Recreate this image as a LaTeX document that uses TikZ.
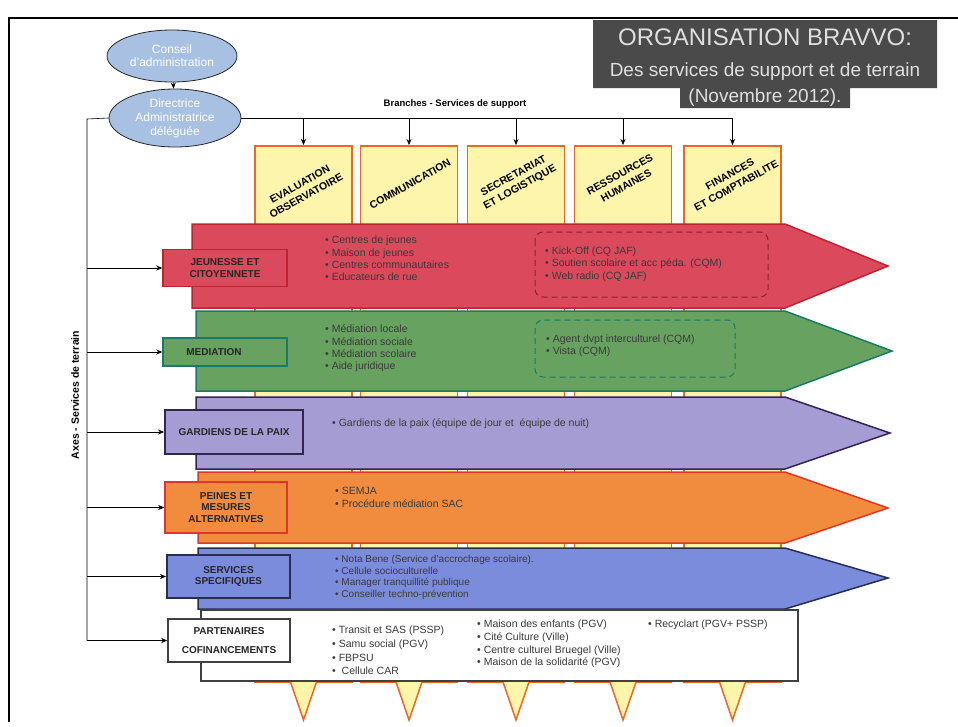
\documentclass[tikz,border=0pt]{standalone}
\usepackage{fontspec}
\setmainfont{Liberation Sans}
\usepackage{tikz}
\usetikzlibrary{shapes.geometric, arrows.meta, positioning, calc}
\definecolor{jeunecolor}{RGB}{218,74,92}
\definecolor{jeuneline}{RGB}{188,36,50}
\definecolor{mediacolor}{RGB}{104,162,96}
\definecolor{medialine}{RGB}{24,122,104}
\definecolor{gardcolor}{RGB}{166,156,212}
\definecolor{gardline}{RGB}{52,36,82}
\definecolor{peinecolor}{RGB}{241,140,62}
\definecolor{peineline}{RGB}{226,52,40}
\definecolor{servcolor}{RGB}{124,140,220}
\definecolor{servline}{RGB}{40,46,82}
\definecolor{supportcolor}{RGB}{253,245,172}
\definecolor{supportline}{RGB}{236,104,40}
\definecolor{ovalcolor}{RGB}{168,192,226}
\definecolor{titlecolor}{RGB}{74,74,74}
\definecolor{textgray}{RGB}{58,58,58}
\tikzstyle{oval} = [ellipse, draw=black!85, thick, fill=ovalcolor, text=white, align=center, inner sep=0pt, font=\fontsize{12}{14}\selectfont]
\tikzstyle{support} = [rectangle, draw=supportline, line width=1.5pt, fill=supportcolor, minimum width=97pt, minimum height=536pt, anchor=north]
\tikzstyle{supporttext} = [rotate=29, align=center, text=black, font=\bfseries\fontsize{10.5}{13}\selectfont]
\tikzstyle{axisbox} = [rectangle, line width=1.5pt, text=black!85, align=center, font=\bfseries\fontsize{10}{11.5}\selectfont]
\tikzstyle{items} = [anchor=west, align=left, inner sep=0pt, text=textgray, font=\fontsize{10.5}{12.3}\selectfont]
\tikzstyle{subgroup} = [draw, rounded corners=8pt, line width=1pt, dash pattern=on 6pt off 4pt]
\tikzstyle{band} = [line width=1.5pt, line join=miter]
\tikzstyle{arrow} = [semithick,->,>={Stealth[length=6pt,width=5pt]}]

\begin{document}
\begin{tikzpicture}[x=1pt, y=-1pt]
    \useasboundingbox (0,0) rectangle (958,726);
    % Frame
    \draw[line width=2pt] (9,722) -- (9,18) -- (958,18);

    % Title
    \fill[titlecolor] (593,20) -- (937,20) -- (937,88) -- (850,88) -- (850,108) -- (680,108) -- (680,88) -- (593,88) -- cycle;
    \node[text=gray!25, font=\fontsize{24}{26}\selectfont] (title) at (765,37) {ORGANISATION BRAVVO:};
    \node[text=gray!25, font=\fontsize{19}{21}\selectfont] (subtitle) at (765,72) {Des services de support et de terrain};
    \node[text=gray!25, font=\fontsize{19}{21}\selectfont] (date) at (765,98) {(Novembre 2012).};

    % Governance
    \node[oval, minimum width=130pt, minimum height=52pt, font=\fontsize{12}{13}\selectfont] (conseil) at (172,56) {Conseil\\d'administration};
    \node[oval, minimum width=132pt, minimum height=58pt] (dir) at (175,118) {Directrice\\Administratrice\\déléguée};
    \draw[arrow] (conseil) -- (dir);

    % Support columns
    \node[support] (eval) at (303.5,145) {};
    \node[support] (comm) at (409,145) {};
    \node[support] (secr) at (516,145) {};
    \node[support] (rh) at (623,145) {};
    \node[support] (fin) at (732.5,145) {};
    \node[supporttext] at (303,190) {EVALUATION\\OBSERVATOIRE};
    \node[supporttext] at (410,184) {COMMUNICATION};
    \node[supporttext] at (517,182) {SECRETARIAT\\ET LOGISTIQUE};
    \node[supporttext] at (623,180) {RESSOURCES\\HUMAINES};
    \node[supporttext] at (733,180) {FINANCES\\ET COMPTABILITE};

    % Branches
    \coordinate (brend) at (732.5,118);
    \node[font=\bfseries\fontsize{9.5}{11}\selectfont] (brlabel) at (455,104) {Branches - Services de support};
    \draw[semithick] (dir.east) -- (brend);
    \draw[arrow] (dir.east -| eval.north) -- (eval.north);
    \draw[arrow] (dir.east -| comm.north) -- (comm.north);
    \draw[arrow] (dir.east -| secr.north) -- (secr.north);
    \draw[arrow] (dir.east -| rh.north) -- (rh.north);
    \draw[arrow] (brend) -- (fin.north);

    % Jeunesse
    \draw[band, fill=jeunecolor, draw=jeuneline] (192,224) -- (785,224) -- (888,266) -- (785,308) -- (192,308) -- cycle;
    \node[axisbox, fill=jeunecolor, draw=jeuneline, minimum width=124pt, minimum height=37pt] (jeunlab) at (225,268) {JEUNESSE ET\\CITOYENNETE};
    \node[items] (jeunlist) at (325,258.5) {\textbullet{} Centres de jeunes\\\textbullet{} Maison de jeunes\\\textbullet{} Centres communautaires\\\textbullet{} Educateurs de rue};
    \draw[subgroup, draw=jeuneline!80!black] (535,232) rectangle (768,297);
    \node[items] (jeunproj) at (545,264) {\textbullet{} Kick-Off (CQ JAF)\\\textbullet{} Soutien scolaire et acc péda. (CQM)\\\textbullet{} Web radio (CQ JAF)};

    % Mediation
    \draw[band, fill=mediacolor, draw=medialine] (196,311) -- (785,311) -- (892,351) -- (785,391) -- (196,391) -- cycle;
    \node[axisbox, fill=mediacolor, draw=medialine, minimum width=124pt, minimum height=28pt] (medlab) at (225,352) {MEDIATION\hspace{2.2em}};
    \node[items] (medlist) at (325,348.5) {\textbullet{} Médiation locale\\\textbullet{} Médiation sociale\\\textbullet{} Médiation scolaire\\\textbullet{} Aide juridique};
    \draw[subgroup, draw=medialine] (535,320) rectangle (735,377);
    \node[items] (medproj) at (546,345.5) {\textbullet{} Agent dvpt interculturel (CQM)\\\textbullet{} Vista (CQM)};

    % Gardiens
    \draw[band, fill=gardcolor, draw=gardline] (196,397) -- (785,397) -- (890,433) -- (785,469) -- (196,469) -- cycle;
    \node[axisbox, fill=gardcolor, draw=gardline, line width=2pt, minimum width=138pt, minimum height=44pt] (gardlab) at (234,432) {GARDIENS DE LA PAIX};
    \node[items] (gardlist) at (332,424) {\textbullet{} Gardiens de la paix (équipe de jour et\ \ équipe de nuit)};

    % Peines
    \draw[band, fill=peinecolor, draw=peineline] (198,472) -- (785,472) -- (888,508) -- (785,543) -- (198,543) -- cycle;
    \node[axisbox, fill=peinecolor, draw=peineline, minimum width=122pt, minimum height=51pt] (peinelab) at (226,507.5) {PEINES ET\\MESURES\\ALTERNATIVES};
    \node[items] (peinelist) at (335,497.5) {\textbullet{} SEMJA\\\textbullet{} Procédure médiation SAC};

    % Services
    \draw[band, fill=servcolor, draw=servline] (198,548) -- (785,548) -- (888,578) -- (785,609) -- (198,609) -- cycle;
    \node[axisbox, fill=servcolor, draw=servline, line width=2pt, minimum width=123pt, minimum height=43pt] (servlab) at (228.5,576.5) {SERVICES\\SPECIFIQUES};
    \node[items, font=\fontsize{10}{11.8}\selectfont] (servlist) at (335,577.5) {\textbullet{} Nota Bene (Service d'accrochage scolaire).\\\textbullet{} Cellule socioculturelle\\\textbullet{} Manager tranquillité publique\\\textbullet{} Conseiller techno-prévention};

    % Partenaires
    \draw[line width=1.5pt, draw=black!75, fill=white] (201,610) rectangle (798,681);
    \node[axisbox, fill=white, draw=black!75, minimum width=122pt, minimum height=43pt, font=\bfseries\fontsize{10}{19}\selectfont] (partlab) at (229,640.5) {PARTENAIRES\\COFINANCEMENTS};
    \node[items, font=\fontsize{10.5}{13.7}\selectfont] (partlist) at (332,650.5) {\textbullet{} Transit et SAS (PSSP)\\\textbullet{} Samu social (PGV)\\\textbullet{} FBPSU\\\textbullet{} \ Cellule CAR};
    \node[items, font=\fontsize{10.5}{12.7}\selectfont] (partcult) at (477,644) {\textbullet{} Maison des enfants (PGV)\\\textbullet{} Cité Culture (Ville)\\\textbullet{} Centre culturel Bruegel (Ville)\\\textbullet{} Maison de la solidarité (PGV)};
    \node[items] (partrecy) at (648,625) {\textbullet{} Recyclart (PGV+ PSSP)};

    % Support column tips
    \fill[supportcolor] (290.5,682) -- (303.5,720) -- (316.5,682) -- cycle;
    \draw[supportline, line width=1.5pt] (290.5,682) -- (303.5,720) -- (316.5,682);
    \fill[supportcolor] (396,682) -- (409,720) -- (422,682) -- cycle;
    \draw[supportline, line width=1.5pt] (396,682) -- (409,720) -- (422,682);
    \fill[supportcolor] (503,682) -- (516,720) -- (529,682) -- cycle;
    \draw[supportline, line width=1.5pt] (503,682) -- (516,720) -- (529,682);
    \fill[supportcolor] (610,682) -- (623,720) -- (636,682) -- cycle;
    \draw[supportline, line width=1.5pt] (610,682) -- (623,720) -- (636,682);
    \fill[supportcolor] (719.5,682) -- (732.5,720) -- (745.5,682) -- cycle;
    \draw[supportline, line width=1.5pt] (719.5,682) -- (732.5,720) -- (745.5,682);

    % Axes
    \coordinate (axtop) at (87,119);
    \node[rotate=90, font=\bfseries\fontsize{10.5}{12}\selectfont] (axlabel) at (75,395) {Axes - Services de terrain};
    \draw[semithick] (dir.west) -- (axtop) -- (axtop |- partlab);
    \draw[arrow] (axtop |- jeunlab) -- (jeunlab);
    \draw[arrow] (axtop |- medlab) -- (medlab);
    \draw[arrow] (axtop |- gardlab) -- (gardlab);
    \draw[arrow] (axtop |- peinelab) -- (peinelab);
    \draw[arrow] (axtop |- servlab) -- (servlab);
    \draw[arrow] (axtop |- partlab) -- (partlab);
\end{tikzpicture}
\end{document}
